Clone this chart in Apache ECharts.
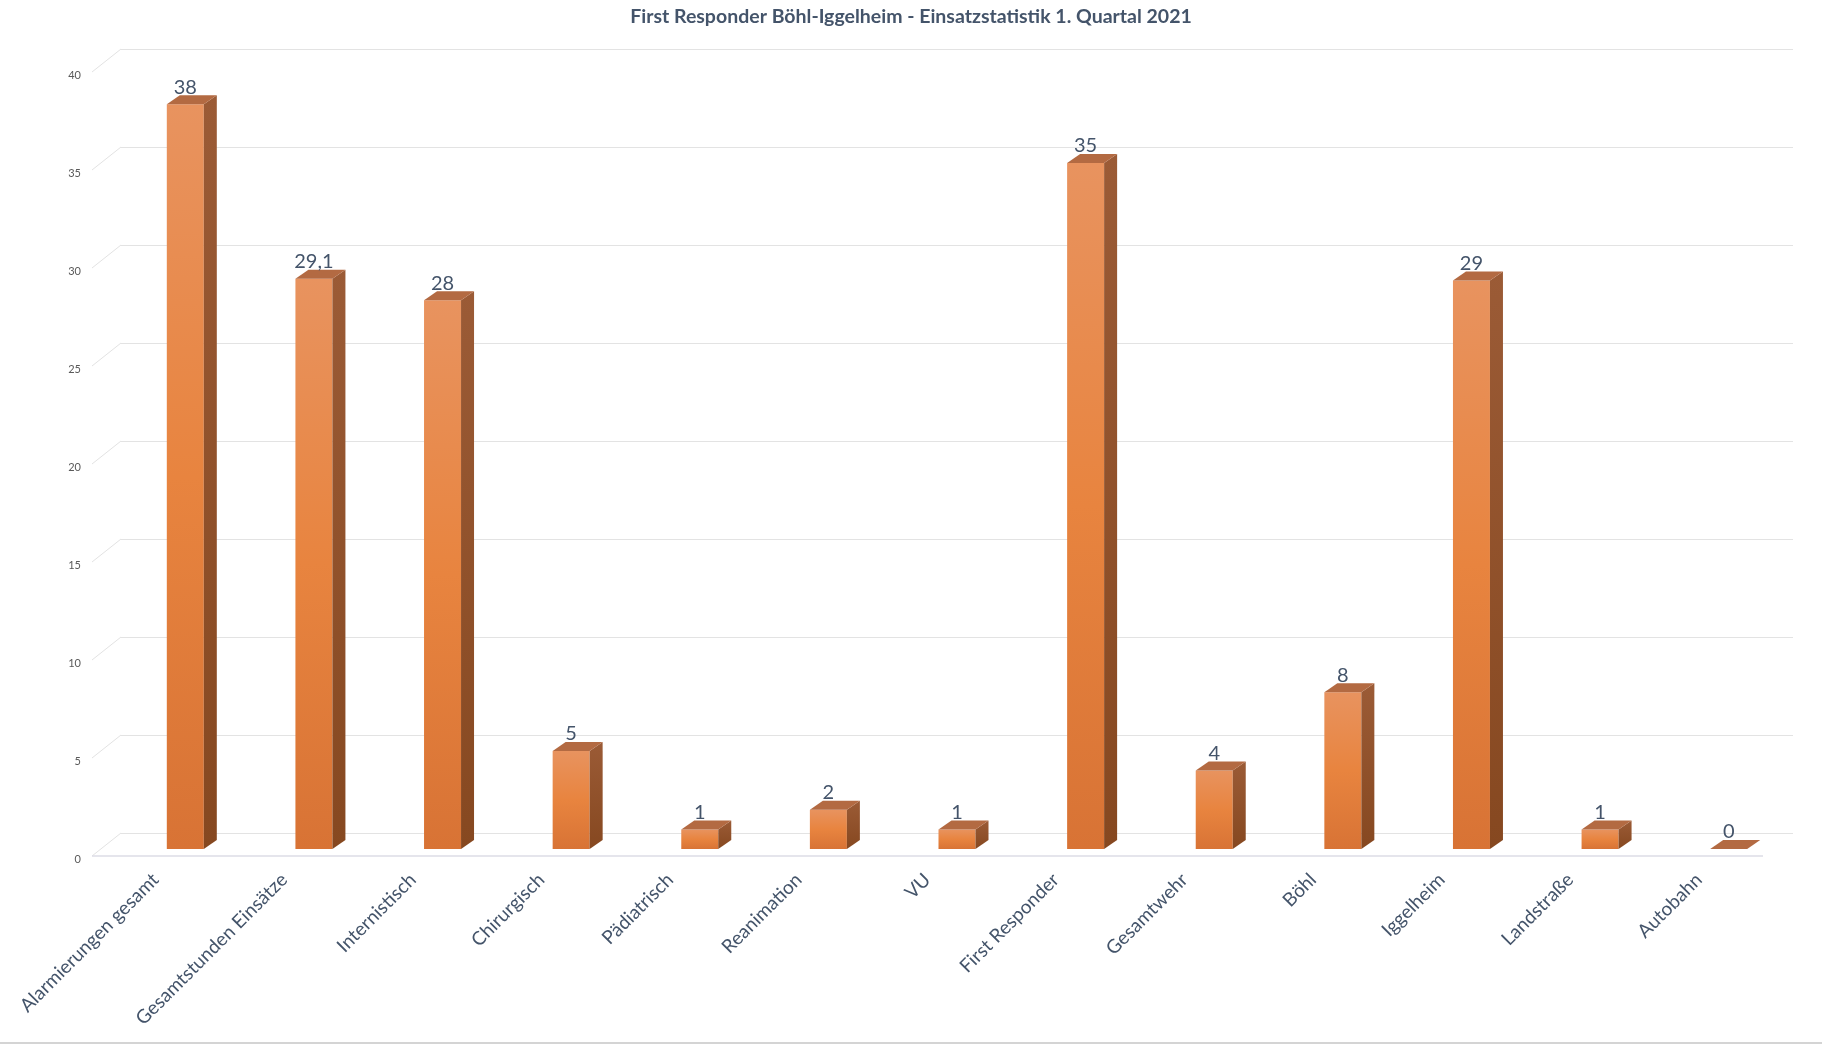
<!DOCTYPE html>
<html>
<head>
<meta charset="utf-8">
<title>Einsatzstatistik</title>
<script src="https://cdn.jsdelivr.net/npm/echarts@6/dist/echarts.min.js"></script>
<style>
  html, body { margin: 0; padding: 0; background: #fff; }
  #main { width: 1822px; height: 1048px; }
</style>
</head>
<body>
<div id="main"></div>
<script>
var categories = ["Alarmierungen gesamt", "Gesamtstunden Einsätze", "Internistisch", "Chirurgisch", "Pädiatrisch",
  "Reanimation", "VU", "First Responder", "Gesamtwehr", "Böhl", "Iggelheim", "Landstraße", "Autobahn"];
var values = [38, 29.1, 28, 5, 1, 2, 1, 35, 4, 8, 29, 1, 0];
var yTicks = [0, 5, 10, 15, 20, 25, 30, 35, 40];

var myChart = echarts.init(document.getElementById('main'));

// 3D-Optik: Vorderseite, Deckel, Seitenfläche
var barW = 37, depthX = 13, depthY = 9, shiftY = 16;

function renderBar(params, api) {
  var idx = api.value(0);
  var v = api.value(1);
  var base = api.coord([idx, 0]);
  var top = api.coord([idx, v]);
  var x0 = base[0] - barW / 2, x1 = base[0] + barW / 2;
  var yb = base[1] + shiftY, yt = top[1] + shiftY;
  var children = [];
  if (yb - yt > 0.5) {
    children.push({
      type: 'rect',
      shape: { x: x0, y: yt, width: barW, height: yb - yt },
      style: {
        fill: new echarts.graphic.LinearGradient(0, 0, 0, 1, [
          { offset: 0, color: '#e8935f' },
          { offset: 0.5, color: '#e8843f' },
          { offset: 1, color: '#d87335' }
        ])
      }
    });
    children.push({
      type: 'polygon',
      shape: { points: [[x1, yt], [x1 + depthX, yt - depthY], [x1 + depthX, yb - depthY], [x1, yb]] },
      style: {
        fill: new echarts.graphic.LinearGradient(0, 0, 0, 1, [
          { offset: 0, color: '#9b5b36' },
          { offset: 1, color: '#864820' }
        ])
      }
    });
  }
  children.push({
    type: 'polygon',
    shape: { points: [[x0, yt], [x0 + depthX, yt - depthY], [x1 + depthX, yt - depthY], [x1, yt]] },
    style: { fill: '#b36a42' }
  });
  children.push({
    type: 'text',
    style: {
      text: String(v).replace('.', ','),
      x: base[0],
      y: yt - depthY + 2,
      textAlign: 'center',
      textVerticalAlign: 'bottom',
      fill: '#44546a',
      font: '20px Lato'
    }
  });
  return { type: 'group', children: children };
}

// schräge Hilfslinien von den Achsenbeschriftungen zur Rückwand
function renderTick(params, api) {
  var cs = params.coordSys;
  var y = api.coord([0, api.value(1)])[1];
  var lines = [{
    type: 'line',
    shape: { x1: cs.x - 29, y1: y + 23, x2: cs.x, y2: y },
    style: { stroke: '#e3e3e3', lineWidth: 1 }
  }];
  if (api.value(1) === 0) {
    lines.push({
      type: 'line',
      shape: { x1: cs.x - 29, y1: y + 23, x2: cs.x + cs.width - 30, y2: y + 23 },
      style: { stroke: '#dcdce6', lineWidth: 1.5 }
    });
  }
  return { type: 'group', children: lines };
}

option = {
  backgroundColor: '#fff',
  animation: false,
  title: {
    text: 'First Responder Böhl-Iggelheim - Einsatzstatistik 1. Quartal 2021',
    left: 'center',
    top: 2,
    textStyle: {
      color: '#44546a',
      fontFamily: 'Lato',
      fontWeight: 'bold',
      fontSize: 19.5
    }
  },
  grid: {
    left: 121,
    right: 29,
    top: 49,
    bottom: 215
  },
  xAxis: {
    type: 'category',
    data: categories,
    axisLine: { show: false },
    axisTick: { show: false },
    axisLabel: {
      interval: 0,
      rotate: 45,
      margin: 14,
      padding: [0, 42, 0, 0],
      color: '#44546a',
      fontFamily: 'Lato',
      fontSize: 19
    }
  },
  yAxis: {
    type: 'value',
    min: 0,
    max: 40,
    interval: 5,
    axisLine: { show: false },
    axisTick: { show: false },
    axisLabel: {
      margin: 40,
      verticalAlign: 'top',
      padding: [21, 0, 0, 0],
      color: '#595959',
      fontFamily: 'Lato',
      fontSize: 11
    },
    splitLine: { lineStyle: { color: '#e3e3e3', width: 1 } }
  },
  series: [
    {
      type: 'custom',
      renderItem: renderTick,
      clip: false,
      silent: true,
      z: 1,
      data: yTicks.map(function (t) { return [0, t]; })
    },
    {
      type: 'custom',
      renderItem: renderBar,
      clip: false,
      z: 3,
      data: values.map(function (v, i) { return [i, v]; })
    }
  ],
  graphic: [{
    type: 'rect',
    shape: { x: 0, y: 1042, width: 1822, height: 2 },
    style: { fill: '#d4d4d4' }
  }]
};

myChart.setOption(option);
</script>
</body>
</html>
